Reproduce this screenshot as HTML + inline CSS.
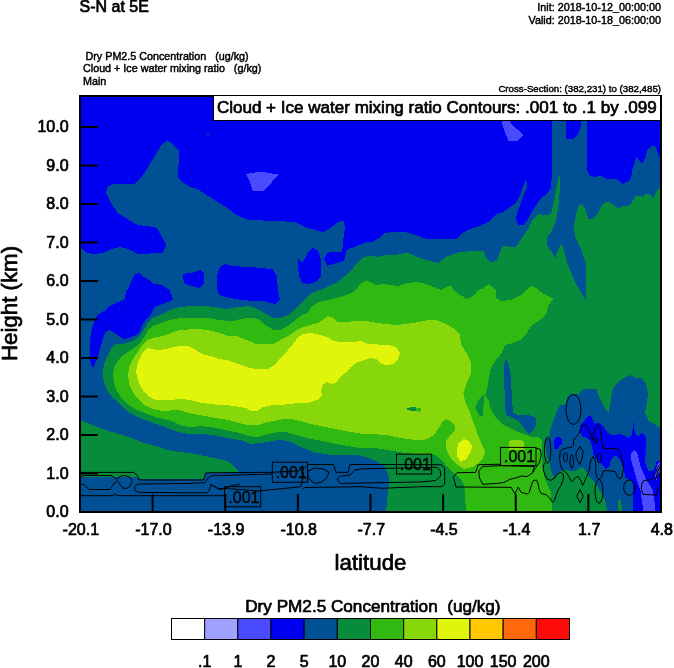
<!DOCTYPE html>
<html><head><meta charset="utf-8"><title>S-N at 5E</title>
<style>
html,body{margin:0;padding:0;background:#fff;}
body{width:674px;height:668px;overflow:hidden;position:relative;font-family:"Liberation Sans",sans-serif;}
svg text{font-family:"Liberation Sans",sans-serif;}
</style></head><body>
<svg width="674" height="668" viewBox="0 0 674 668" style="position:absolute;left:0;top:0">
<defs><clipPath id="pc"><rect x="80" y="96" width="581" height="416"/></clipPath></defs>
<rect x="80" y="96" width="581" height="416" fill="#0000f0"/>
<g clip-path="url(#pc)" shape-rendering="crispEdges">
<polygon fill="#005096" points="80,247 85,252 92.5,254 102.5,253 112.5,249 120,247 127.5,249 137.5,253.5 147.5,254 155,252.5 162.5,253 166,245.5 162.5,238 157.5,229 154,227 137.5,225 127.5,219 117.5,213 111,203 106,193 107.5,187 112.5,184 135,183.5 141,178 147.5,168 155,155.5 161,145.5 167.5,140 174,145.5 179,150.5 179.5,160.5 177.5,170.5 178,177 182.5,182 190,187 197.5,189 207.5,195.5 217.5,202 227.5,208 235,214 242.5,217.5 248,220 263,220.5 280.5,221 295.5,222.5 305.5,227 315.5,230 323,232 329,229 335.5,224 340.5,221 344,221 345,228 343.5,238 342.5,248 342,251.5 333,251.5 327,253 324,259 327.5,265.5 335.5,263.5 344,261 346.5,250 355.5,246.5 365.5,242.5 373,241.5 379,238 384,233 393,232 405.5,232 416,235 426,239 438.5,239 456,239 462,233 470,229 481,225.5 488.5,222 496,214 503.5,212 510,207 516,203 520,195.5 523.5,185.5 526,178.5 527,188 523.5,195.5 521,203 517,213 516,219 518.5,225 523.5,225 527,220.5 531,213 536,205.5 541,198 547,194 551,188 552,173 552,148 552,96 565,96 566,138.5 573.5,139 578.5,133.5 581,126 583.5,96 587,96 587,133.5 586.5,151 586.5,168.5 590,176 595,177 601,175.5 606,178.5 613.5,178.5 618.5,180 622,184 627,182 631,178.5 632,171 635,161 636.5,157 640,161.5 642,163.5 645,158.5 647,151 651,146 655,146 657,150 659,156 661,161 661,512 80,512"/>
<polygon fill="#0000f0" points="127.5,290 131,282 135,274 139,273 144,277 150,280.5 154,284 162.5,285 167.5,289 169.5,290 171,294 173,299.5 167.5,302 160,305 154,307.5 151,314 146,319 142.5,325 140,331 136,335 130,337.5 124,339 119,336 114,332.5 109,330 105,332.5 102.5,340 99,352.5 95.5,362.5 93,367.5 91,364 89.5,355 89.5,345 91,332.5 94,322.5 97.5,315 104,311 110,306 117.5,302.5 125,299 126,290"/>
<polygon fill="#0000f0" points="183,274 192.5,272.5 200,270 204,273 204.5,283 200,288 194,287 185,284 183,279"/>
<polygon fill="#0000f0" points="217.5,290 217,275.5 220,267 225,264 232.5,266 248,267 263,268 273,269.5 276.5,276 278,290 280,300 275.5,304 263,301 248,300.5 235,299 225,297 219,295"/>
<polygon fill="#0000f0" points="298,259 302,263 305.5,258 308,252 313,248 318,250.5 320.5,258 321,268 320.5,277 315.5,282 308,284 302,283 299,275.5 298,267"/>
<polygon fill="#0000f0" points="588.5,415.5 591.5,417 593.5,421 595,424 598,422.5 600.5,424 603.5,427 607.5,432.5 612,435.5 619,434 624.5,435.5 628.5,438 632,434 633.5,423 634,428.5 635.5,434 638,436.5 641,433 644,434 646,438 646.5,443.5 646,450.5 645,459 646,466 648.5,471 652,471.5 655,467.5 656.5,461.5 661,461 661,512 632.5,512 632.5,503.5 632.5,493.5 633.5,485.5 632,481 628.5,480 625.5,477 624.5,473 623,467.5 621,461.5 618,457 614.5,455.5 611,459 609.5,466 607.5,468.5 605.4,468.5 601.5,463.6 597.6,460.8 593.8,456 592,446.5 590,441 587.5,438 583,436.5 581,434 579.5,430.5 580,425 584,422 585.5,418.5"/>
<polygon fill="#0000f0" points="554.5,440 556,437.5 559,437 561.5,439.5 562,443 559.5,446.5 557,449.5 554.5,448.5 554,444"/>
<polygon fill="#4a4aff" points="634,450 631.5,453.5 630.5,457.5 632,463 634,470 636,477 638,484 640.5,491 641.5,498 642.5,505 643,512 655,512 655,505 654,498 653,491 650,485.5 646.5,480 644,474 641,467.5 639,460.5 637.5,453.5 635,450"/>
<polygon fill="#4a4aff" points="661,461 658,463 656,468 655,475 656.5,480 658,476 661,470"/>
<polygon fill="#4a4aff" points="246,174 255,172.5 263,172 278.5,174.5 272,182 264,190.5 253,191 249,180"/>
<polygon fill="#4a4aff" points="501,96 511,123.5 517,129 523,135 517,141 508.5,140.5 505,133 502,123 498,96"/>
<polygon fill="#005096" points="206,133.5 210,134 210,135.5 206,135"/>
<polygon fill="#078c3c" points="661,428 656,425.5 648.5,420.5 645,413 647,403 648,393 646,384 642,378.5 636,378 630,375 623.5,378 617,383 612,390.5 610.5,403 608.5,413 605,408 600,399 596,389 586,389 581,390.5 580,394 571,394 567,397 566,404 560,405.5 557,410.5 555.5,415 554,419.5 552,424.5 550.5,429 550,434 549,438.5 547,437.5 545,440 546,450 548,460 550.5,461.5 550,466 551,471 553,476 554.5,479 557,474.5 560,472 563.5,470 567,469.5 570.5,471 574.5,471 578,469.5 581.5,467 584,468.5 586.5,472.5 588.5,476 591,478.5 594.5,482 597,485.5 599.5,490 603.5,496.5 606,503.5 607,512 386,512 387,502 388,490.5 389.5,480.5 388,473.5 384,466.5 377,461.5 368.5,458 357,455 343,455 329,454.5 315,452.5 301,447 289.5,441 278,440 264,442.5 250,444 242.5,440.5 232.5,439 222.5,437 212.5,435 202.5,434 192.5,434.5 182.5,433 172.5,430 162.5,426 152.5,422.5 142.5,419 134,415 125,410 119,404 112.5,397.5 107.5,391 104,382.5 102.5,372.5 104,364 107.5,356 111,349 115,344.5 122.5,344 130,342 136,339 141,334 145,327.5 149,321 154,317 160,315 166,312 172.5,309 180,307 192.5,306 205,306 215,307 225,309 235,307.5 248,306 258,309 265.5,314 273,317.5 280.5,317.5 288,315 294,310 299,306 304,300 309,295 315.5,291 320.5,290 330.5,285.5 338,282 345.5,275.5 353,268 358,262 363,257.5 370.5,255.5 378,257 384,255 393,255.5 400.5,254 407,252.5 416,256.5 426,260 438.5,263 446,257 458.5,252.5 471,251 483.5,251 487,259 491,262.5 497,260.5 500,252 503.5,245.5 510,247 516,247 521,239 527,230.5 532,220.5 538.5,214 546,215.5 551,214 553.5,203 556,190.5 558.5,178 560,174 560,188 558.5,205.5 556,220.5 552,230.5 546.5,238 547,245.5 552,252 555,258 557,253 560,245.5 562,244 565,253 567,263 571.5,273 575,282 580,290.5 585.5,300 586,300 586.5,280.5 586,263 582,251 578.5,243.5 575,237 574,226 576,213.5 579,205 582,204 585.5,210 588.5,218.5 592,219 597,215 601,207 605,202 608.5,201.5 613.5,205 618.5,208.5 623.5,205.5 628.5,206 632,202 636,195.5 640,196 643,197 646,193.5 650,195 653.5,198.5 656,192 659,188 661,187"/>
<polygon fill="#078c3c" points="80,420 92.5,425 105,430 117.5,433.5 130,437.5 142.5,442.5 155,446 167.5,450 180,452 192.5,453.5 204.5,456 217,458.5 227,461 232,464.5 236,468.5 240,472.5 206,473.5 204,478.5 140,478.5 135,477 80,477"/>
<polygon fill="#078c3c" points="618,512 618.5,500 621,499 622,512"/>
<polygon fill="#005096" points="503.5,365 506,359 509,365 511,377.5 511.5,390 512,402.5 513.5,412.5 518.5,415.5 528.5,415 535.5,417.5 536.5,424 533.5,430 528.5,434.5 523.5,427.5 518.5,421 512,417.5 506,415 505,407.5 505,395 503.5,380"/>
<polygon fill="#30ba11" points="113,374 115,365 119,359 125,354 132.5,349 139,344 144,337.5 147.5,331 152.5,326 159,324 166,321 174,319 182.5,318 192.5,317.5 205,317.5 216,319.5 225,320.5 235,320.5 248,317.5 258,319 265.5,325 273,329.5 280.5,330 288,326 295.5,320 302,315 308,312.5 312,306 319,302 328,300 338,297.5 347,295 353,292 355.5,290 360.5,284 365.5,280.5 370.5,282 375.5,285 383,284 390.5,285 398,286 408,283 416,282 426,284 436,288 441,290 447,287 451,285.5 453.5,290 458.5,294 467,299 473.5,296 478.5,290 482,289 488.5,284 493.5,288 495.5,290 496,297.5 501,301 511,300 521,295 526,290 531,285.5 536,288 538.5,290 543.5,294 553.5,299 548.5,305 546,315 538.5,321 531,326 526,335 520,340 511,343.5 505,345 502,352.5 496,360 491,367.5 488.5,380 487,390 485,395 488.5,400 491,410 496,417.5 503.5,425 513.5,430 523.5,434 533.5,437.5 538,436.5 541.5,440.5 542.5,448 541.5,458 542.5,467.5 544.5,477 547.5,485 550.5,490.5 551.5,500 552.5,512 465.5,512 465.5,502.5 465,493 464,485.5 461.5,479.5 456,474.5 450,470 445.5,464.5 441,459.5 436,455.5 431.5,454 424,454 414.5,454 405.5,453 396,451.5 387,450 377.5,448.5 370,447.5 360.5,448 348,446 335.5,444 323,441 310.5,439 298,435.5 288,432.5 278,432 268,434 258,437 248,436 240,433 230,431 220,429 210,427 200,426 190,427.5 180,425 172.5,421 162.5,419 152.5,416 144,412.5 135,409 127.5,404 121,397.5 117,391 114,384"/>
<polygon fill="#078c3c" points="483.5,395 478.5,400 475.5,407.5 478.5,414 483,417.5 483.5,405"/>
<polygon fill="#87d70a" points="128,376 129,367.5 132.5,360 137.5,352.5 142.5,345 147.5,340 155,337.5 164,335.5 171,333 179,330 187.5,329.5 197.5,329 207.5,330 217.5,332.5 227.5,335.5 237.5,336.5 248,340.5 255.5,343.5 263,344.5 273,344 280.5,340 288,336 295.5,331 302,327.5 310.5,325 319,322.5 324,319 328,316 333,318 338,322 345.5,322 355.5,321 365.5,321 375.5,322.5 385.5,324 395.5,325 405.5,324 416,322.5 426,320.5 436,320 446,324 455,329 460,335 461,344 466,352.5 471,362.5 471.5,372.5 467,382.5 463.5,392.5 465,402.5 470,412.5 473.5,422.5 477,432.5 481,442.5 485,451 482.5,459.5 474,466.5 464,469 455.5,463.5 449,455.5 445.5,447 446,441 450,435.5 454.5,431 454.5,425.5 451.5,421.5 446,419 441.5,423 438.5,428.5 434.5,434 430,437.5 424,440 416,440 407,439 397.5,437.5 388.5,435.5 379,434.5 370,434 363,434 350.5,432 338,429.5 325.5,427 313,424.5 300.5,421 292,419 280.5,419.5 268,422 258,425 248,425 242.5,424 232.5,421 222.5,419 212.5,417.5 202.5,415.5 192.5,414 182.5,411 175,409.5 167.5,411 160,410.5 152.5,409 145.5,405.5 139,400 133,392.5 129.5,385"/>
<polygon fill="#87d70a" points="508.5,441 513.5,440 520,439.5 524,442 524,450 508.5,450"/>
<polygon fill="#078c3c" points="405.5,409 412,407 416,407.5 416,411 412,411"/>
<polygon fill="#30ba11" points="416,407.5 421.5,408 420,412 416,411"/>
<polygon fill="#e1f50a" points="136,372.5 137,365 140,357.5 144,351 147.5,348 155,349.5 162.5,349.5 170,348 179,346 187.5,346 195,349.5 202.5,354 210,356 220,359 230,361 240,364.5 248,367.5 258,369.5 268,369 273,366 278,361 283,355 288,350 293,344 298,337.5 303,334 310.5,333 320.5,335 328,337.5 334,341 343,342.5 353,342 360.5,341 368,344 378,344.5 388,344.5 395.5,347 400,352.5 398,359 393,364 387,365.5 382,364 377,359.5 370.5,358 363,360.5 355.5,363 350.5,367.5 345.5,372.5 340.5,377 335.5,383 330.5,384 327,382 323,384.5 321,390 322,395 317,400 309,402.5 298,403 285.5,404.5 273,405 263,407 257,411 251,411 246,408 240,407 230,405.5 220,405 210,404 200,402.5 190,400 182.5,399 175,399.5 167.5,400 160,400.5 152.5,399 146,394 141,387.5 138,380"/>
<polygon fill="#e1f50a" points="458.5,443 464,439 469,441 472.5,447 470,453 466,459.5 460.5,461.5 457.5,456.5 457,449"/>
</g>
<g clip-path="url(#pc)" fill="none" stroke="#000" stroke-width="1">
<polyline points="80,472.4 133.4,472.4 137.4,475.5 139,480 203.5,480 205.8,472.8 272,472.3 298,471 304,468.5 308,464.5"/>
<polyline points="308,464.5 333.5,464.5 335.8,472.3 348,472.3 350,464.5 441,464.7 444.7,468 444.7,484 442,486.7 424,486.7 400,487.5 382,488.3"/>
<polyline points="80,476.8 84.5,475.5 111,475.5 116.7,479 121,476 125.6,475.5 130,477.3 132.3,481.3 129.4,486.6 126.7,488.4 122.7,488 119.6,484 117.4,480.6 114.5,482.8 110,489.5 89,489.5 84.5,485 80,484"/>
<polyline points="139,484 184.6,483.5 204.6,482.8 209,477 213.5,475.5 222.4,475.5 272,474"/>
<polyline points="139,484 135.5,485.5 134.5,488 135.5,491 139,492.4 184.6,492.8 207,492.8 209,490.6 211.3,485 215.8,487.3 219,489.5 224.7,488.4 232,485.5 240,484.5"/>
<polyline points="80,495.7 113,495.7 115,494 117,495.7 224,495.7"/>
<polyline points="210,484.5 214,486 219,489 223.5,488.3 259,491 301,486.7 302.5,479 303.5,472"/>
<polyline points="302.5,488.7 305,487.5 360,486.7 382,488.3"/>
<polyline points="308,471 314.6,468.2 323.5,469 329,472.3 326.8,477.8 321.3,482.3 314.6,483.4 309,479 308,474.5 308,471"/>
<polyline points="360,469 354.7,470 350.2,475 340.2,476.3 337,479 340.2,483.4 360,483 420,482 436,480.5 440.5,476 440.5,471 437,467.3 360,468.9"/>
<polyline points="457,472.7 475.6,472.4 478.3,464.7 500.5,464.2"/>
<polyline points="535.9,448.2 540.5,449.4 541.2,455.3 539.2,463.2 535.2,468.5 532.6,472.7"/>
<polyline points="457,472.7 453.4,477.2 456,487 511.2,487.3 514.8,494 518.3,487 521,492.3 527.2,494 529.3,492.2 531.3,485.6 533.3,480.3 536.6,480.3 537.9,483 539.2,489.6 541.2,493.5 546.4,494.8 549.7,498.1 552.4,502.1 554.4,500.8 556.3,494.8 558.3,489.6 560.9,485.6 562.9,480.3 563.6,475.1 560.9,472.4 557.6,473.7 555,477.7 551.1,480.3 547.1,479 545.1,475.1 543.2,469.8 543.8,464.5 545.8,462.5"/>
<polyline points="482.7,466.5 500.5,465.6 534.4,466.5 532.6,472.7 527.2,476.6 521.9,476 516.6,477.7 509.4,479.5 504,482.5 497,483.4 482.7,484.3 479.5,478 478.8,471 482.7,466.5"/>
<polyline points="560.3,451.4 562.3,449.4 566.2,448 571.5,447.4 573.5,444.8 573.5,440.8 575.4,437.5 578.7,434.2 580.7,429 582,425.7 586,425 588.6,429 590.6,434.2 592.6,441 593.9,432.9 595.2,427.6 597.8,425 599.8,427.6 601.1,434.2 601.8,442.1 603.1,448 608.4,448.7 617.4,448.5 620.2,452 622.2,460.3 623.6,467.3 622.2,475.6 620.2,479.1 617.4,477 615.3,471.5 607.1,470.5 603.1,471.1 601.8,476.4 599.1,479.7 597.2,477.7 595.9,473.7 595.9,467.2 595.2,460.6 593.2,456.6 591.2,459.3 589.9,464.5 589.3,469.8 588,473.7 586,477.7 584,483 582.7,485.6 580.7,480.3 578.1,476.4 575.4,477.7 573.5,480.3 571.5,481.7 568.8,476.4 566.2,472.4 562.3,469.8 560.3,464.5 559.6,457.9 560.3,451.4"/>
<polyline points="661,463.8 657.7,467.3 655.6,472.8 653.5,475.6 650.8,479.8 643.8,480.5 641.7,484 641.3,489.5 643.1,494.4 656.3,495.1 657.7,488.2 661,487.5"/>
<polyline points="661,465.9 658.4,470 656.3,477 655,479.8 657.7,475.6 661,471.5"/>
<polyline points="579.7,446.1 583,451.4 582.3,458 579.7,464.5 576.4,458 575.8,454 579.7,446.1"/>
<polyline points="580,489.5 583.3,496.1 580,502.7 576.7,496.1 580,489.5"/>
<ellipse cx="573.5" cy="409.5" rx="7.5" ry="15"/>
<ellipse cx="547.6" cy="450.3" rx="3.2" ry="13"/>
<ellipse cx="565.5" cy="457.3" rx="2" ry="4.6"/>
<ellipse cx="571.7" cy="461.6" rx="1.7" ry="6.9"/>
<ellipse cx="595.9" cy="440.5" rx="1.3" ry="3"/>
<ellipse cx="599.2" cy="458" rx="2" ry="5"/>
<ellipse cx="599" cy="491.3" rx="4" ry="11.9"/>
<ellipse cx="629.3" cy="487.7" rx="5.7" ry="7.6"/>
<rect x="224.5" y="486.7" width="36.2" height="20.1"/>
<rect x="272.3" y="462.2" width="35.2" height="20.1"/>
<rect x="396.5" y="454.2" width="35.1" height="19.8"/>
<rect x="500.5" y="447.4" width="35.5" height="18.2"/>
</g>
<g font-family="'Liberation Sans', sans-serif" font-size="16" fill="#000" stroke="#000" stroke-width="0.35" text-anchor="middle">
<text x="243.9" y="502.65">.001</text>
<text x="291.2" y="478.15">.001</text>
<text x="415.35" y="470">.001</text>
<text x="519.55" y="462.4">.001</text>
</g>
<g stroke="#000" stroke-width="2">
<line x1="80" y1="473.5" x2="98" y2="473.5"/>
<line x1="80" y1="435" x2="98" y2="435"/>
<line x1="80" y1="396.5" x2="98" y2="396.5"/>
<line x1="80" y1="358" x2="98" y2="358"/>
<line x1="80" y1="319.5" x2="98" y2="319.5"/>
<line x1="80" y1="281" x2="98" y2="281"/>
<line x1="80" y1="242.5" x2="98" y2="242.5"/>
<line x1="80" y1="204" x2="98" y2="204"/>
<line x1="80" y1="165.5" x2="98" y2="165.5"/>
<line x1="80" y1="127" x2="98" y2="127"/>
<line x1="152.625" y1="512" x2="152.625" y2="494"/>
<line x1="225.25" y1="512" x2="225.25" y2="494"/>
<line x1="297.875" y1="512" x2="297.875" y2="494"/>
<line x1="370.5" y1="512" x2="370.5" y2="494"/>
<line x1="443.125" y1="512" x2="443.125" y2="494"/>
<line x1="515.75" y1="512" x2="515.75" y2="494"/>
<line x1="588.375" y1="512" x2="588.375" y2="494"/>
</g>
<rect x="80" y="96" width="581" height="416" fill="none" stroke="#000" stroke-width="2"/>
<rect x="213.5" y="95.5" width="447" height="25" fill="#fff" stroke="#000" stroke-width="1"/>
<rect x="171.5" y="618.5" width="33.1667" height="21" fill="#ffffff" stroke="#000" stroke-width="1"/>
<rect x="204.667" y="618.5" width="33.1667" height="21" fill="#a0a0ff" stroke="#000" stroke-width="1"/>
<rect x="237.833" y="618.5" width="33.1667" height="21" fill="#4a4aff" stroke="#000" stroke-width="1"/>
<rect x="271" y="618.5" width="33.1667" height="21" fill="#0000f0" stroke="#000" stroke-width="1"/>
<rect x="304.167" y="618.5" width="33.1667" height="21" fill="#005096" stroke="#000" stroke-width="1"/>
<rect x="337.333" y="618.5" width="33.1667" height="21" fill="#078c3c" stroke="#000" stroke-width="1"/>
<rect x="370.5" y="618.5" width="33.1667" height="21" fill="#30ba11" stroke="#000" stroke-width="1"/>
<rect x="403.667" y="618.5" width="33.1667" height="21" fill="#87d70a" stroke="#000" stroke-width="1"/>
<rect x="436.833" y="618.5" width="33.1667" height="21" fill="#e1f50a" stroke="#000" stroke-width="1"/>
<rect x="470" y="618.5" width="33.1667" height="21" fill="#ffc800" stroke="#000" stroke-width="1"/>
<rect x="503.167" y="618.5" width="33.1667" height="21" fill="#ff690a" stroke="#000" stroke-width="1"/>
<rect x="536.333" y="618.5" width="33.1667" height="21" fill="#ff0a0a" stroke="#000" stroke-width="1"/>
<g font-family="'Liberation Sans', sans-serif" fill="#000" stroke="#000" stroke-width="0.7" stroke-linejoin="round">
<text x="79.5" y="12" font-size="16">S-N at 5E</text>
<text x="661" y="11" stroke-width="0.45" font-size="10.8" text-anchor="end">Init: 2018-10-12_00:00:00</text>
<text x="661" y="23.5" stroke-width="0.45" font-size="10.8" text-anchor="end">Valid: 2018-10-18_06:00:00</text>
<text x="85.5" y="59.5" stroke-width="0.45" font-size="10.75" xml:space="preserve">Dry PM2.5 Concentration   (ug/kg)</text>
<text x="83" y="71.5" stroke-width="0.45" font-size="10.75" xml:space="preserve">Cloud + Ice water mixing ratio   (g/kg)</text>
<text x="83" y="84.5" stroke-width="0.45" font-size="10.75">Main</text>
<text x="661" y="91.5" stroke-width="0.45" font-size="9.7" text-anchor="end">Cross-Section: (382,231) to (382,485)</text>
<text x="216.9" y="113" font-size="17.05">Cloud + Ice water mixing ratio Contours: .001 to .1 by .099</text>
<text x="68.6" y="517.3" font-size="16" text-anchor="end">0.0</text>
<text x="68.6" y="478.8" font-size="16" text-anchor="end">1.0</text>
<text x="68.6" y="440.3" font-size="16" text-anchor="end">2.0</text>
<text x="68.6" y="401.8" font-size="16" text-anchor="end">3.0</text>
<text x="68.6" y="363.3" font-size="16" text-anchor="end">4.0</text>
<text x="68.6" y="324.8" font-size="16" text-anchor="end">5.0</text>
<text x="68.6" y="286.3" font-size="16" text-anchor="end">6.0</text>
<text x="68.6" y="247.8" font-size="16" text-anchor="end">7.0</text>
<text x="68.6" y="209.3" font-size="16" text-anchor="end">8.0</text>
<text x="68.6" y="170.8" font-size="16" text-anchor="end">9.0</text>
<text x="68.6" y="132.3" font-size="16" text-anchor="end">10.0</text>
<text x="80.8" y="535.4" font-size="16" text-anchor="middle">-20.1</text>
<text x="153.425" y="535.4" font-size="16" text-anchor="middle">-17.0</text>
<text x="226.05" y="535.4" font-size="16" text-anchor="middle">-13.9</text>
<text x="298.675" y="535.4" font-size="16" text-anchor="middle">-10.8</text>
<text x="371.3" y="535.4" font-size="16" text-anchor="middle">-7.7</text>
<text x="443.925" y="535.4" font-size="16" text-anchor="middle">-4.5</text>
<text x="516.55" y="535.4" font-size="16" text-anchor="middle">-1.4</text>
<text x="589.175" y="535.4" font-size="16" text-anchor="middle">1.7</text>
<text x="661.8" y="535.4" font-size="16" text-anchor="middle">4.8</text>
<text x="370.5" y="569.5" font-size="22.3" text-anchor="middle">latitude</text>
<text transform="translate(17.4,303.5) rotate(-90)" font-size="22.3" text-anchor="middle">Height (km)</text>
<text x="372.9" y="611.5" font-size="17.15" text-anchor="middle" xml:space="preserve">Dry PM2.5 Concentration  (ug/kg)</text>
<text x="204.667" y="666.7" font-size="16" text-anchor="middle">.1</text>
<text x="237.833" y="666.7" font-size="16" text-anchor="middle">1</text>
<text x="271" y="666.7" font-size="16" text-anchor="middle">2</text>
<text x="304.167" y="666.7" font-size="16" text-anchor="middle">5</text>
<text x="337.333" y="666.7" font-size="16" text-anchor="middle">10</text>
<text x="370.5" y="666.7" font-size="16" text-anchor="middle">20</text>
<text x="403.667" y="666.7" font-size="16" text-anchor="middle">40</text>
<text x="436.833" y="666.7" font-size="16" text-anchor="middle">60</text>
<text x="470" y="666.7" font-size="16" text-anchor="middle">100</text>
<text x="503.167" y="666.7" font-size="16" text-anchor="middle">150</text>
<text x="536.333" y="666.7" font-size="16" text-anchor="middle">200</text>
</g>
</svg>
</body></html>
